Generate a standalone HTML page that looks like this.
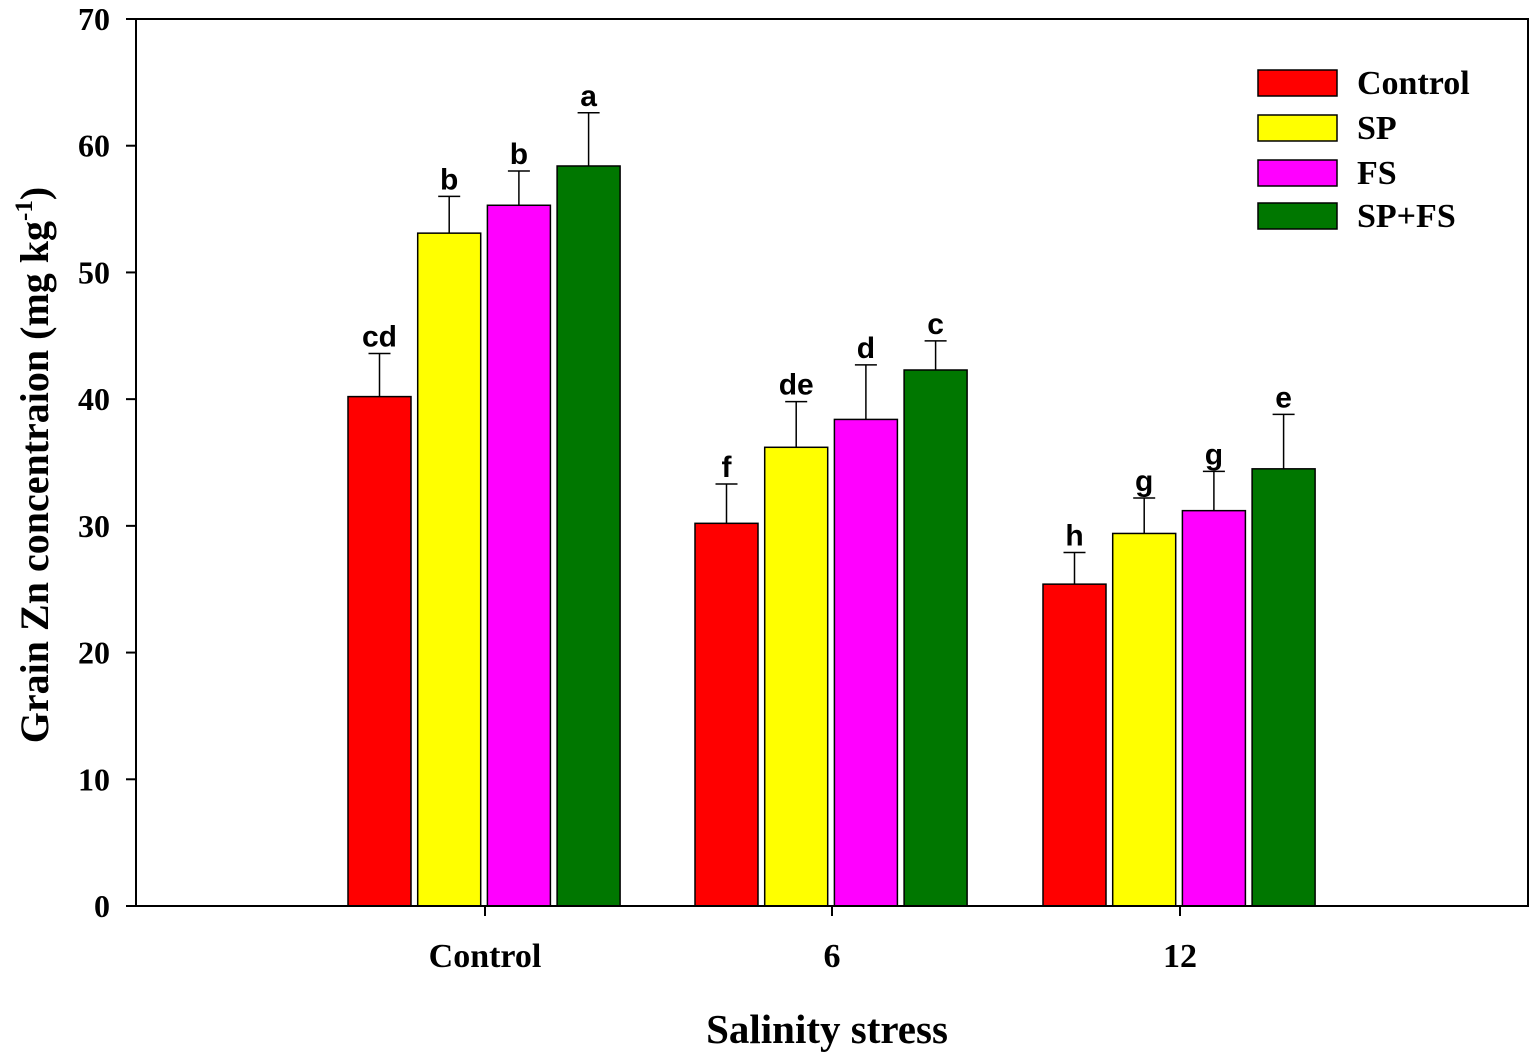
<!DOCTYPE html>
<html><head><meta charset="utf-8"><style>
body{margin:0;background:#fff;}
svg{display:block;}
.t{font-family:"Liberation Serif",serif;font-weight:bold;}
.l{font-family:"Liberation Sans",sans-serif;font-weight:bold;font-size:30px;}
</style></head><body>
<svg id="c" width="1535" height="1063" xmlns="http://www.w3.org/2000/svg"></svg>
<script>
const categories=["Control","6","12"];
const seriesNames=["Control","SP","FS","SP+FS"];
const colors=["#ff0000","#ffff00","#ff00ff","#007700"];
const valsControl=[40.2,53.1,55.3,58.4];
const vals6=[30.2,36.2,38.4,42.3];
const vals12=[25.4,29.4,31.2,34.5];
const errTopControl=[43.6,56.0,58.0,62.6];
const errTop6=[33.3,39.8,42.7,44.6];
const errTop12=[27.9,32.2,34.3,38.8];
const lettersControl=["cd","b","b","a"];
const letters6=["f","de","d","c"];
const letters12=["h","g","g","e"];
const yTicks=[0,10,20,30,40,50,60,70];
const values=[valsControl,vals6,vals12];
const errs=[errTopControl,errTop6,errTop12];
const letters=[lettersControl,letters6,letters12];

const svg=document.getElementById('c');
const NS="http://www.w3.org/2000/svg";
const L=136,R=1528,T=19,B=906;
const y=v=>B-(v/70)*(B-T);
const groupCenters=[485,832,1180];
const x=(g,s)=>groupCenters[g]-137+s*69.7;
const bw=63;
function mk(tag,attrs,txt){const e=document.createElementNS(NS,tag);for(const k in attrs)e.setAttribute(k,attrs[k]);if(txt!==undefined)e.textContent=txt;svg.appendChild(e);return e;}

values.forEach((arr,g)=>arr.forEach((v,s)=>{
  const r=mk('rect',{x:x(g,s),y:y(v),width:bw,height:B-y(v),fill:colors[s],stroke:'#000','stroke-width':1.5});
  
  
  const cx=x(g,s)+bw/2, et=y(errs[g][s]);
  const eb=mk('path',{d:`M${cx},${y(v)}V${et}M${cx-11},${et}H${cx+11}`,stroke:'#000','stroke-width':1.5,fill:'none'});
  
  
  const lt=mk('text',{x:cx,y:et-7,'text-anchor':'middle',class:'l'},letters[g][s]);
  
  
}));

const ax=mk('path',{d:`M${L},${T}V${B}H${R}V${T}H${L}`,stroke:'#000','stroke-width':2,fill:'none'});


yTicks.forEach(t=>{
  mk('line',{x1:L-10,x2:L,y1:y(t),y2:y(t),stroke:'#000','stroke-width':2});
  const tl=mk('text',{x:L-26,y:y(t)+11,'text-anchor':'end',class:'t','font-size':32},t);
  
  
});
categories.forEach((c,g)=>{
  mk('line',{x1:groupCenters[g],x2:groupCenters[g],y1:B,y2:B+10,stroke:'#000','stroke-width':2});
  const tl=mk('text',{x:groupCenters[g],y:967,'text-anchor':'middle',class:'t','font-size':34},c);
  
  
});
const xt=mk('text',{x:827,y:1043,'text-anchor':'middle',class:'t','font-size':41},'Salinity stress');


const yt=mk('text',{transform:'translate(48,465) rotate(-90)','text-anchor':'middle',class:'t','font-size':40});


yt.innerHTML='Grain Zn concentraion (mg kg<tspan dy="-16" font-size="25">-1</tspan><tspan dy="16">)</tspan>';

const legY=[70,115,160,203];
seriesNames.forEach((n,s)=>{
  const r=mk('rect',{x:1258,y:legY[s],width:79,height:26,fill:colors[s],stroke:'#000','stroke-width':1.5});
  
  
  const t=mk('text',{x:1357,y:legY[s]+24,class:'t','font-size':34},n);
  
  
});
</script>
</body></html>
